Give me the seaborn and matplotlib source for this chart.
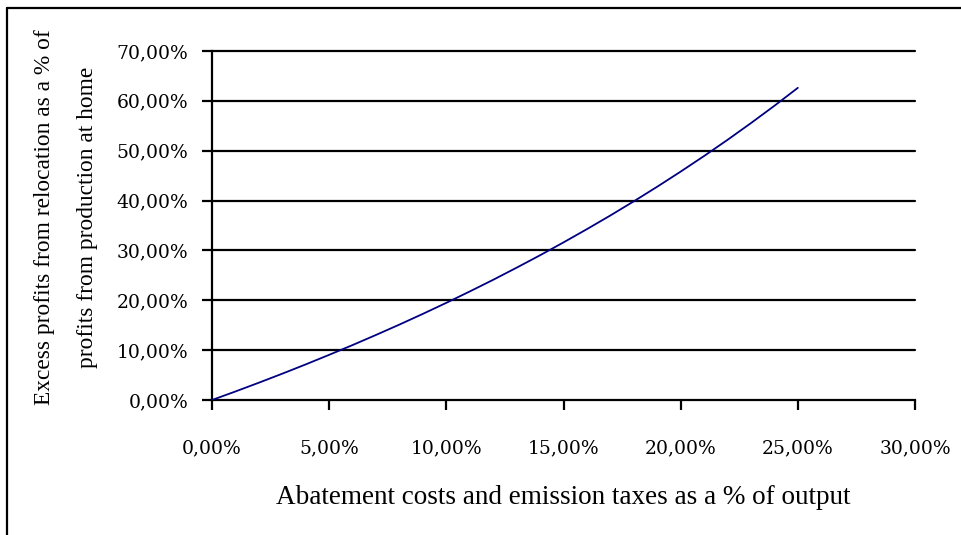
import matplotlib
matplotlib.use("Agg")
import matplotlib.pyplot as plt
from matplotlib.lines import Line2D
from matplotlib.ticker import FuncFormatter
import pandas as pd
import seaborn as sns

# Abatement costs / emission taxes (% of output)
cost_share = [0, 1, 2, 3, 4, 5, 6, 7, 8, 9, 10, 11, 12, 13,
              14, 15, 16, 17, 18, 19, 20, 21, 22, 23, 24, 25]
# Excess profits from relocation (% of home-production profits)
excess_profit = [0.00, 1.71, 3.47, 5.28, 7.14, 9.06, 11.02, 13.05, 15.13,
                 17.28, 19.49, 21.77, 24.11, 26.54, 29.03, 31.61, 34.27,
                 37.01, 39.85, 42.78, 45.81, 48.94, 52.18, 55.54, 59.01, 62.61]

x_ticks = [0, 5, 10, 15, 20, 25, 30]
y_ticks = [0, 10, 20, 30, 40, 50, 60, 70]

df = pd.DataFrame({"cost": cost_share, "profit": excess_profit})

sns.set_style("white")
plt.rcParams["font.family"] = ["DejaVu Serif"]
plt.rcParams["text.color"] = "black"
plt.rcParams["axes.labelcolor"] = "black"
plt.rcParams["xtick.color"] = "black"
plt.rcParams["ytick.color"] = "black"

fig = plt.figure(figsize=(9.62, 5.35), dpi=100)
ax = fig.add_axes([212 / 962, 1 - 400 / 535, (915 - 212) / 962, (400 - 51) / 535])

sns.lineplot(data=df, x="cost", y="profit", ax=ax, color="#000080",
             linewidth=1.3, estimator=None, zorder=3)

ax.set_xlim(0, 30)
ax.set_ylim(0, 70)
ax.set_xticks(x_ticks)
ax.set_yticks(y_ticks)
pct = FuncFormatter(lambda v, _: f"{v:.2f}%".replace(".", ","))
ax.xaxis.set_major_formatter(pct)
ax.yaxis.set_major_formatter(pct)

for s in ["top", "right"]:
    ax.spines[s].set_visible(False)
for s in ["left", "bottom"]:
    ax.spines[s].set_color("black")
    ax.spines[s].set_linewidth(1.6)

# horizontal gridlines at every major y tick
for yv in y_ticks[1:]:
    ax.axhline(yv, color="black", linewidth=1.6, zorder=1, clip_on=False)

ax.tick_params(axis="y", left=True, direction="out", length=7, width=1.6,
               color="black", labelcolor="black", pad=10, labelsize=13.5)
ax.tick_params(axis="x", bottom=True, direction="out", length=7, width=1.6,
               color="black", labelcolor="black", pad=21, labelsize=13.5)
for lab in ax.get_xticklabels() + ax.get_yticklabels():
    lab.set_family("DejaVu Serif")
ax.grid(False)

ax.set_xlabel("Abatement costs and emission taxes as a % of output",
              family="Liberation Serif", fontsize=19.5, labelpad=20,
              color="black")
ax.set_ylabel("")
fig.text(66 / 962, 1 - 217 / 535,
         "Excess profits from relocation as a % of\nprofits from production at home",
         rotation=90, ha="center", va="center", family="Liberation Serif",
         fontsize=16.8, linespacing=2.4, color="black")

# outer frame of the chart area
fig.add_artist(Line2D([7 / 962, 7 / 962], [0, 1 - 8 / 535], color="black",
                      linewidth=1.6, transform=fig.transFigure))
fig.add_artist(Line2D([7 / 962, 1], [1 - 8 / 535, 1 - 8 / 535], color="black",
                      linewidth=1.6, transform=fig.transFigure))

fig.savefig("out.png", dpi=100)
